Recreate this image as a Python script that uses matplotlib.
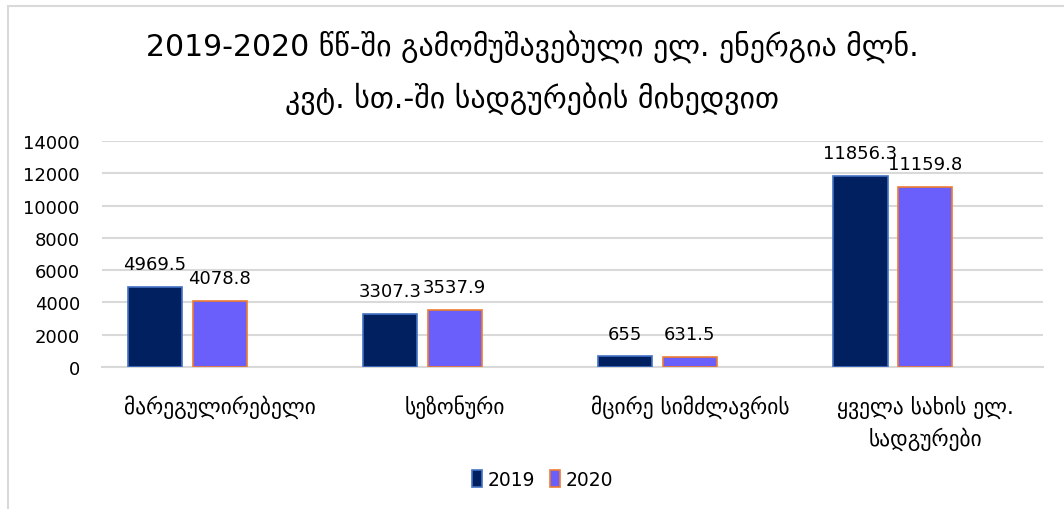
import matplotlib.pyplot as plt
import numpy as np
from matplotlib.patches import Rectangle

categories = ["მარეგულირებელი", "სეზონური", "მცირე სიმძლავრის", "ყველა სახის ელ.\nსადგურები"]
values_2019 = [4969.5, 3307.3, 655, 11856.3]
values_2020 = [4078.8, 3537.9, 631.5, 11159.8]
labels_2019 = ["4969.5", "3307.3", "655", "11856.3"]
labels_2020 = ["4078.8", "3537.9", "631.5", "11159.8"]
yticks = [0, 2000, 4000, 6000, 8000, 10000, 12000, 14000]

title = "2019-2020 წწ-ში გამომუშავებული ელ. ენერგია მლნ.\nკვტ. სთ.-ში სადგურების მიხედვით"

plt.rcParams["font.family"] = ["DejaVu Sans"]

fig = plt.figure(figsize=(10.64, 5.10), dpi=100)
ax = fig.add_axes([0.0959, 0.2784, 0.8841, 0.4432])

# light frame around the chart area
fig.patches.append(Rectangle((8 / 1064, -0.1), 1.2, 1 - 7 / 510 + 0.1,
                             transform=fig.transFigure, fill=False,
                             edgecolor="#D9D9D9", linewidth=1.5))

x = np.arange(len(categories))
w = 0.23
ax.bar(x - 0.275, values_2019, w, color="#002060", edgecolor="#4472C4",
       linewidth=1.2, label="2019", zorder=3)
ax.bar(x, values_2020, w, color="#6A5FFB", edgecolor="#ED7D31",
       linewidth=1.2, label="2020", zorder=3)

for xi, v, t in zip(x - 0.275, values_2019, labels_2019):
    ax.text(xi, v + 850, t, ha="center", va="bottom", fontsize=13)
for xi, v, t in zip(x, values_2020, labels_2020):
    ax.text(xi, v + 850, t, ha="center", va="bottom", fontsize=13)

ax.set_xlim(-0.5, 3.5)
ax.set_ylim(0, 14000)
ax.set_yticks(yticks)
ax.set_yticklabels([str(t) for t in yticks], fontsize=13)
ax.set_xticks(x)
ax.set_xticklabels(categories, fontsize=15.5, linespacing=1.45)
ax.tick_params(axis="y", length=0, pad=16)
ax.tick_params(axis="x", length=0, pad=20)
ax.grid(axis="y", color="#D9D9D9", linewidth=1.5, zorder=0)
for s in ["top", "right", "left"]:
    ax.spines[s].set_visible(False)
ax.spines["bottom"].set_color("#D9D9D9")
ax.spines["bottom"].set_linewidth(1.5)

fig.text(0.5, 0.857, title, ha="center", va="center", fontsize=21.5,
         linespacing=1.75)

fig.legend(loc="center", bbox_to_anchor=(0.51, 0.058), ncol=2, frameon=False,
           fontsize=13.5, handlelength=0.55, handleheight=1.0,
           handletextpad=0.3, columnspacing=0.8)

fig.savefig("out.png", dpi=100)
